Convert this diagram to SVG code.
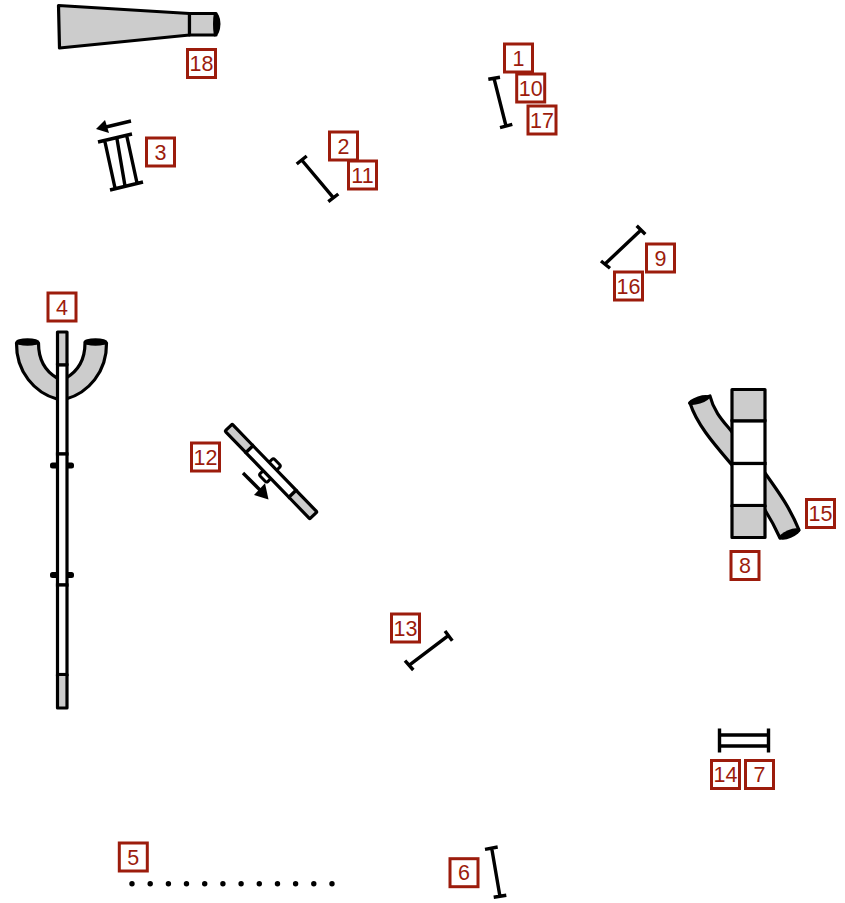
<svg xmlns="http://www.w3.org/2000/svg" width="845" height="903" viewBox="0 0 845 903">
<style>
.l rect{fill:#fff;stroke:#9c1c0c;stroke-width:3}
.l text{font-family:"Liberation Sans",Arial,sans-serif;font-size:21.500px;fill:#9c1c0c;text-anchor:middle}
.o{fill:none;stroke:#000;stroke-width:3.400;stroke-linecap:butt}
.g{fill:#ccc;stroke:#000;stroke-width:3.200;stroke-linejoin:round}
.w{fill:#fff;stroke:#000;stroke-width:3.200}
.lug{fill:#fff;stroke:#000;stroke-width:3}
</style>
<g id="o18">
<path class="g" d="M58.500 5.500 L189.500 13.500 L189.500 35 L59.500 48 Z"/>
<path class="g" d="M189.500 13.500 H216 V35 H189.500 Z"/>
<path d="M214 12 Q220 12 220.500 24 Q220 36 214 36.500 Q212 24 214 12Z" fill="#000"/>
</g>
<g id="o3">
<path class="o" d="M98 142 L132 134 M110 190 L143 182 M105 142 L115 188 M117 139 L125 186 M127 137 L137 183 M131 121 L106 127"/>
<path d="M96 129 L105 120 L109 133 Z" fill="#000"/>
</g>
<g id="o2"><path class="o" d="M301.700 160 L333.300 197.700 M296.700 164 L306.700 156 M328.300 201.700 L338.300 194"/></g>
<g id="o1"><path class="o" d="M494 78.300 L506 126 M488.300 79.300 L500 77.300 M500 127.700 L512.300 124.300"/></g>
<g id="o9"><path class="o" d="M605 264 L641 230 M601 261 L610 268.300 M636.700 225.700 L645.300 234.300"/></g>
<g id="o13"><path class="o" d="M409 665.300 L448.300 635.700 M405 660.700 L413.300 670 M445 631 L452.300 640.700"/></g>
<g id="o6"><path class="o" d="M491.700 848.300 L500 896.700 M485 849.300 L497.700 847 M493.700 897.300 L506.300 895.300"/></g>
<g id="o14"><path class="o" d="M719.500 728.500 V752.500 M768.500 728.500 V752.500 M719.500 735 H768.500 M719.500 746 H768.500"/></g>
<g id="o5" fill="#000">
<circle cx="132" cy="883.700" r="2.700"/><circle cx="150.200" cy="883.700" r="2.700"/><circle cx="168.400" cy="883.700" r="2.700"/><circle cx="186.500" cy="883.700" r="2.700"/><circle cx="204.700" cy="883.700" r="2.700"/><circle cx="222.900" cy="883.700" r="2.700"/><circle cx="241.100" cy="883.700" r="2.700"/><circle cx="259.300" cy="883.700" r="2.700"/><circle cx="277.500" cy="883.700" r="2.700"/><circle cx="295.600" cy="883.700" r="2.700"/><circle cx="313.800" cy="883.700" r="2.700"/><circle cx="332" cy="883.700" r="2.700"/>
</g>
<g id="o4">
<path class="g" d="M16.500 343 C16 372 35 393 57 399 L66 399 C88 393 107 372 106.500 343 L85 343 C85 360 78 371 66 378 L57 378 C45 371 38.500 360 38.500 343 Z"/>
<ellipse cx="27.500" cy="342" rx="12" ry="3.800" fill="#000"/>
<ellipse cx="95.500" cy="342" rx="12" ry="3.800" fill="#000"/>
<rect class="lug" x="51.500" y="464" width="21" height="3" rx="1"/>
<rect class="lug" x="51.500" y="573.500" width="21" height="3" rx="1"/>
<rect class="g" x="57.500" y="332" width="9.500" height="33"/>
<rect class="w" x="57.500" y="365" width="9.500" height="89"/>
<rect class="w" x="57.500" y="454" width="9.500" height="131"/>
<rect class="w" x="57.500" y="585" width="9.500" height="89.500"/>
<rect class="g" x="57.500" y="674.500" width="9.500" height="33.500"/>
</g>
<g id="o12">
<g transform="translate(271 471.500) rotate(46)">
<rect class="lug" x="-8" y="-11" width="11" height="7" rx="2"/>
<rect class="lug" x="-6" y="4" width="11" height="7" rx="2"/>
<rect class="g" x="-61" y="-5" width="30" height="10" rx="1"/>
<rect class="w" x="-31" y="-5" width="62" height="10"/>
<rect class="g" x="31" y="-5" width="30" height="10" rx="1"/>
</g>
<path class="o" d="M243 473 L260 490"/>
<path d="M268.500 499.500 L254 495 L265 483.300 Z" fill="#000"/>
</g>
<g id="o15">
<path class="g" d="M690 403 L710 396 C714 413 726 424 732 432 L765 473 C780 494 790 508 799 530 L780 538 C775 527 770 518 765 510 L732 465 C715 445 697 425 690 403 Z"/>
<ellipse cx="699" cy="400" rx="11.500" ry="3.800" transform="rotate(-18 699 400)" fill="#000"/>
<ellipse cx="789.500" cy="534" rx="11.500" ry="4" transform="rotate(-22 789.500 534)" fill="#000"/>
</g>
<g id="o8">
<rect class="g" x="732" y="389.500" width="33" height="31.500"/>
<rect class="w" x="732" y="421" width="33" height="42.500"/>
<rect class="w" x="732" y="463.500" width="33" height="42"/>
<rect class="g" x="732" y="505.500" width="33" height="32"/>
</g>
<g id="label-1" class="l" transform="translate(518.500 58)"><rect x="-14" y="-14" width="28" height="28"/><text y="7.500">1</text></g>
<g id="label-10" class="l" transform="translate(530.700 88)"><rect x="-14" y="-14" width="28" height="28"/><text y="7.500">10</text></g>
<g id="label-17" class="l" transform="translate(542 120)"><rect x="-14" y="-14" width="28" height="28"/><text y="7.500">17</text></g>
<g id="label-18" class="l" transform="translate(201.500 63.500)"><rect x="-14" y="-14" width="28" height="28"/><text y="7.500">18</text></g>
<g id="label-3" class="l" transform="translate(160.500 152)"><rect x="-14" y="-14" width="28" height="28"/><text y="7.500">3</text></g>
<g id="label-2" class="l" transform="translate(343.500 146)"><rect x="-14" y="-14" width="28" height="28"/><text y="7.500">2</text></g>
<g id="label-11" class="l" transform="translate(362.500 175)"><rect x="-14" y="-14" width="28" height="28"/><text y="7.500">11</text></g>
<g id="label-9" class="l" transform="translate(660.500 258)"><rect x="-14" y="-14" width="28" height="28"/><text y="7.500">9</text></g>
<g id="label-16" class="l" transform="translate(628.500 286)"><rect x="-14" y="-14" width="28" height="28"/><text y="7.500">16</text></g>
<g id="label-4" class="l" transform="translate(62 307)"><rect x="-14" y="-14" width="28" height="28"/><text y="7.500">4</text></g>
<g id="label-12" class="l" transform="translate(205.500 457)"><rect x="-14" y="-14" width="28" height="28"/><text y="7.500">12</text></g>
<g id="label-15" class="l" transform="translate(820.500 513.500)"><rect x="-14" y="-14" width="28" height="28"/><text y="7.500">15</text></g>
<g id="label-8" class="l" transform="translate(745 565.500)"><rect x="-14" y="-14" width="28" height="28"/><text y="7.500">8</text></g>
<g id="label-13" class="l" transform="translate(405.500 628)"><rect x="-14" y="-14" width="28" height="28"/><text y="7.500">13</text></g>
<g id="label-14" class="l" transform="translate(725.500 774.500)"><rect x="-14" y="-14" width="28" height="28"/><text y="7.500">14</text></g>
<g id="label-7" class="l" transform="translate(759.500 774.500)"><rect x="-14" y="-14" width="28" height="28"/><text y="7.500">7</text></g>
<g id="label-5" class="l" transform="translate(133.300 857)"><rect x="-14" y="-14" width="28" height="28"/><text y="7.500">5</text></g>
<g id="label-6" class="l" transform="translate(464 872.700)"><rect x="-14" y="-14" width="28" height="28"/><text y="7.500">6</text></g>
</svg>
